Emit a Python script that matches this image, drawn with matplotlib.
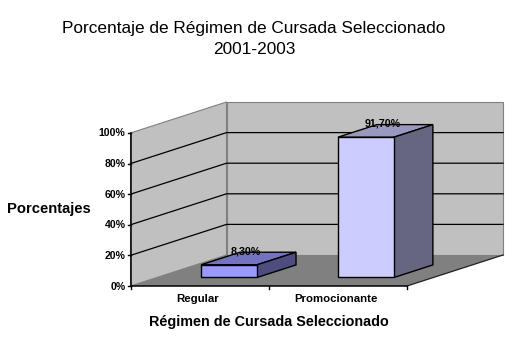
import matplotlib
matplotlib.use("Agg")
import matplotlib.pyplot as plt
from matplotlib.patches import Polygon

plt.rcParams['font.family'] = ['Liberation Sans', 'DejaVu Sans']

# data
categories = ['Regular', 'Promocionante']
values = [8.3, 91.7]
value_labels = ['8,30%', '91,70%']
tick_values = [0, 20, 40, 60, 80, 100]
tick_labels = ['0%', '20%', '40%', '60%', '80%', '100%']
front_colors = ['#9999FF', '#CCCCFF']
top_colors = ['#7373BF', '#9999BF']
side_colors = ['#4D4D80', '#666680']

# layout of the fake 3d box, in figure pixels
X0, Y0 = 130.5, 286.0
CAT_W = 138.25
VAL_H = 1.53
DX, DY = 96.0, -31.0


def proj(cat, val, depth=0.0):
    # category units, percent, depth 0 (front) .. 1 (back) -> pixels
    return (X0 + cat * CAT_W + depth * DX, Y0 - val * VAL_H + depth * DY)


def face(ax, pts, color, edge='black', lw=1.0, z=2):
    ax.add_patch(Polygon(pts, closed=True, facecolor=color, edgecolor=edge,
                         linewidth=lw, zorder=z, joinstyle='miter'))


fig = plt.figure(figsize=(5.17, 3.51), dpi=100)
ax = fig.add_axes([0, 0, 1, 1])
ax.set_xlim(0, 517)
ax.set_ylim(351, 0)
ax.axis('off')

n = len(categories)
# walls and floor
face(ax, [proj(0, 0), proj(0, 100), proj(0, 100, 1), proj(0, 0, 1)], '#C0C0C0', '#808080', 0.8)
face(ax, [proj(0, 0, 1), proj(0, 100, 1), proj(n, 100, 1), proj(n, 0, 1)], '#C0C0C0', '#808080', 0.8)
face(ax, [proj(0, 0), proj(0, 0, 1), proj(n, 0, 1), proj(n, 0)], '#808080', 'none', 0)

# gridlines on both walls
for v in tick_values[1:-1]:
    xs, ys = zip(proj(0, v), proj(0, v, 1), proj(n, v, 1))
    ax.plot(xs, ys, color='black', lw=0.9, zorder=3)

# floor right edge and axes
xs, ys = zip(proj(n, 0), proj(n, 0, 1))
ax.plot(xs, ys, color='#202020', lw=0.9, zorder=3)
xs, ys = zip(proj(0, 100), proj(0, 0), proj(n, 0))
ax.plot(xs, ys, color='black', lw=1.1, zorder=3)

# value axis ticks and labels
for v, lab in zip(tick_values, tick_labels):
    x, y = proj(0, v)
    ax.plot([x - 3, x], [y, y], color='black', lw=1.0, zorder=3)
    ax.text(x - 5, y + 0.5, lab, ha='right', va='center', fontsize=7.6, fontweight='bold')

# category ticks and labels
for i in range(n + 1):
    x, y = proj(i, 0)
    ax.plot([x, x], [y, y + 3], color='black', lw=1.0, zorder=3)
for i, lab in enumerate(categories):
    x, y = proj(i + 0.5, 0)
    ax.text(x - 2, y + 13, lab, ha='center', va='center', fontsize=8.2, fontweight='bold')

# bars
bar_w = 0.405
bar_step = 0.99
d0, d1 = 0.275, 0.68
for i, v in enumerate(values):
    l = i * bar_step + 0.32
    r = l + bar_w
    z = 4 + i
    face(ax, [proj(l, v, d0), proj(l, v, d1), proj(r, v, d1), proj(r, v, d0)], top_colors[i], z=z)
    face(ax, [proj(r, 0, d0), proj(r, v, d0), proj(r, v, d1), proj(r, 0, d1)], side_colors[i], z=z)
    face(ax, [proj(l, 0, d0), proj(l, v, d0), proj(r, v, d0), proj(r, 0, d0)], front_colors[i], z=z)
    x, y = proj(l + bar_w / 2, v, (d0 + d1) / 2)
    ax.text(x - 3, y - 7, value_labels[i], ha='center', va='center', fontsize=7.7,
            fontweight='bold', zorder=8)

# titles
ax.text(254, 28, 'Porcentaje de Régimen de Cursada Seleccionado', ha='center', va='center', fontsize=12.4)
ax.text(254, 50, '2001-2003', ha='center', va='center', fontsize=12.4)
ax.text(48.5, 209, 'Porcentajes', ha='center', va='center', fontsize=10.6, fontweight='bold')
ax.text(268.5, 322, 'Régimen de Cursada Seleccionado', ha='center', va='center', fontsize=10.4, fontweight='bold')

fig.savefig('out.png', dpi=100)
